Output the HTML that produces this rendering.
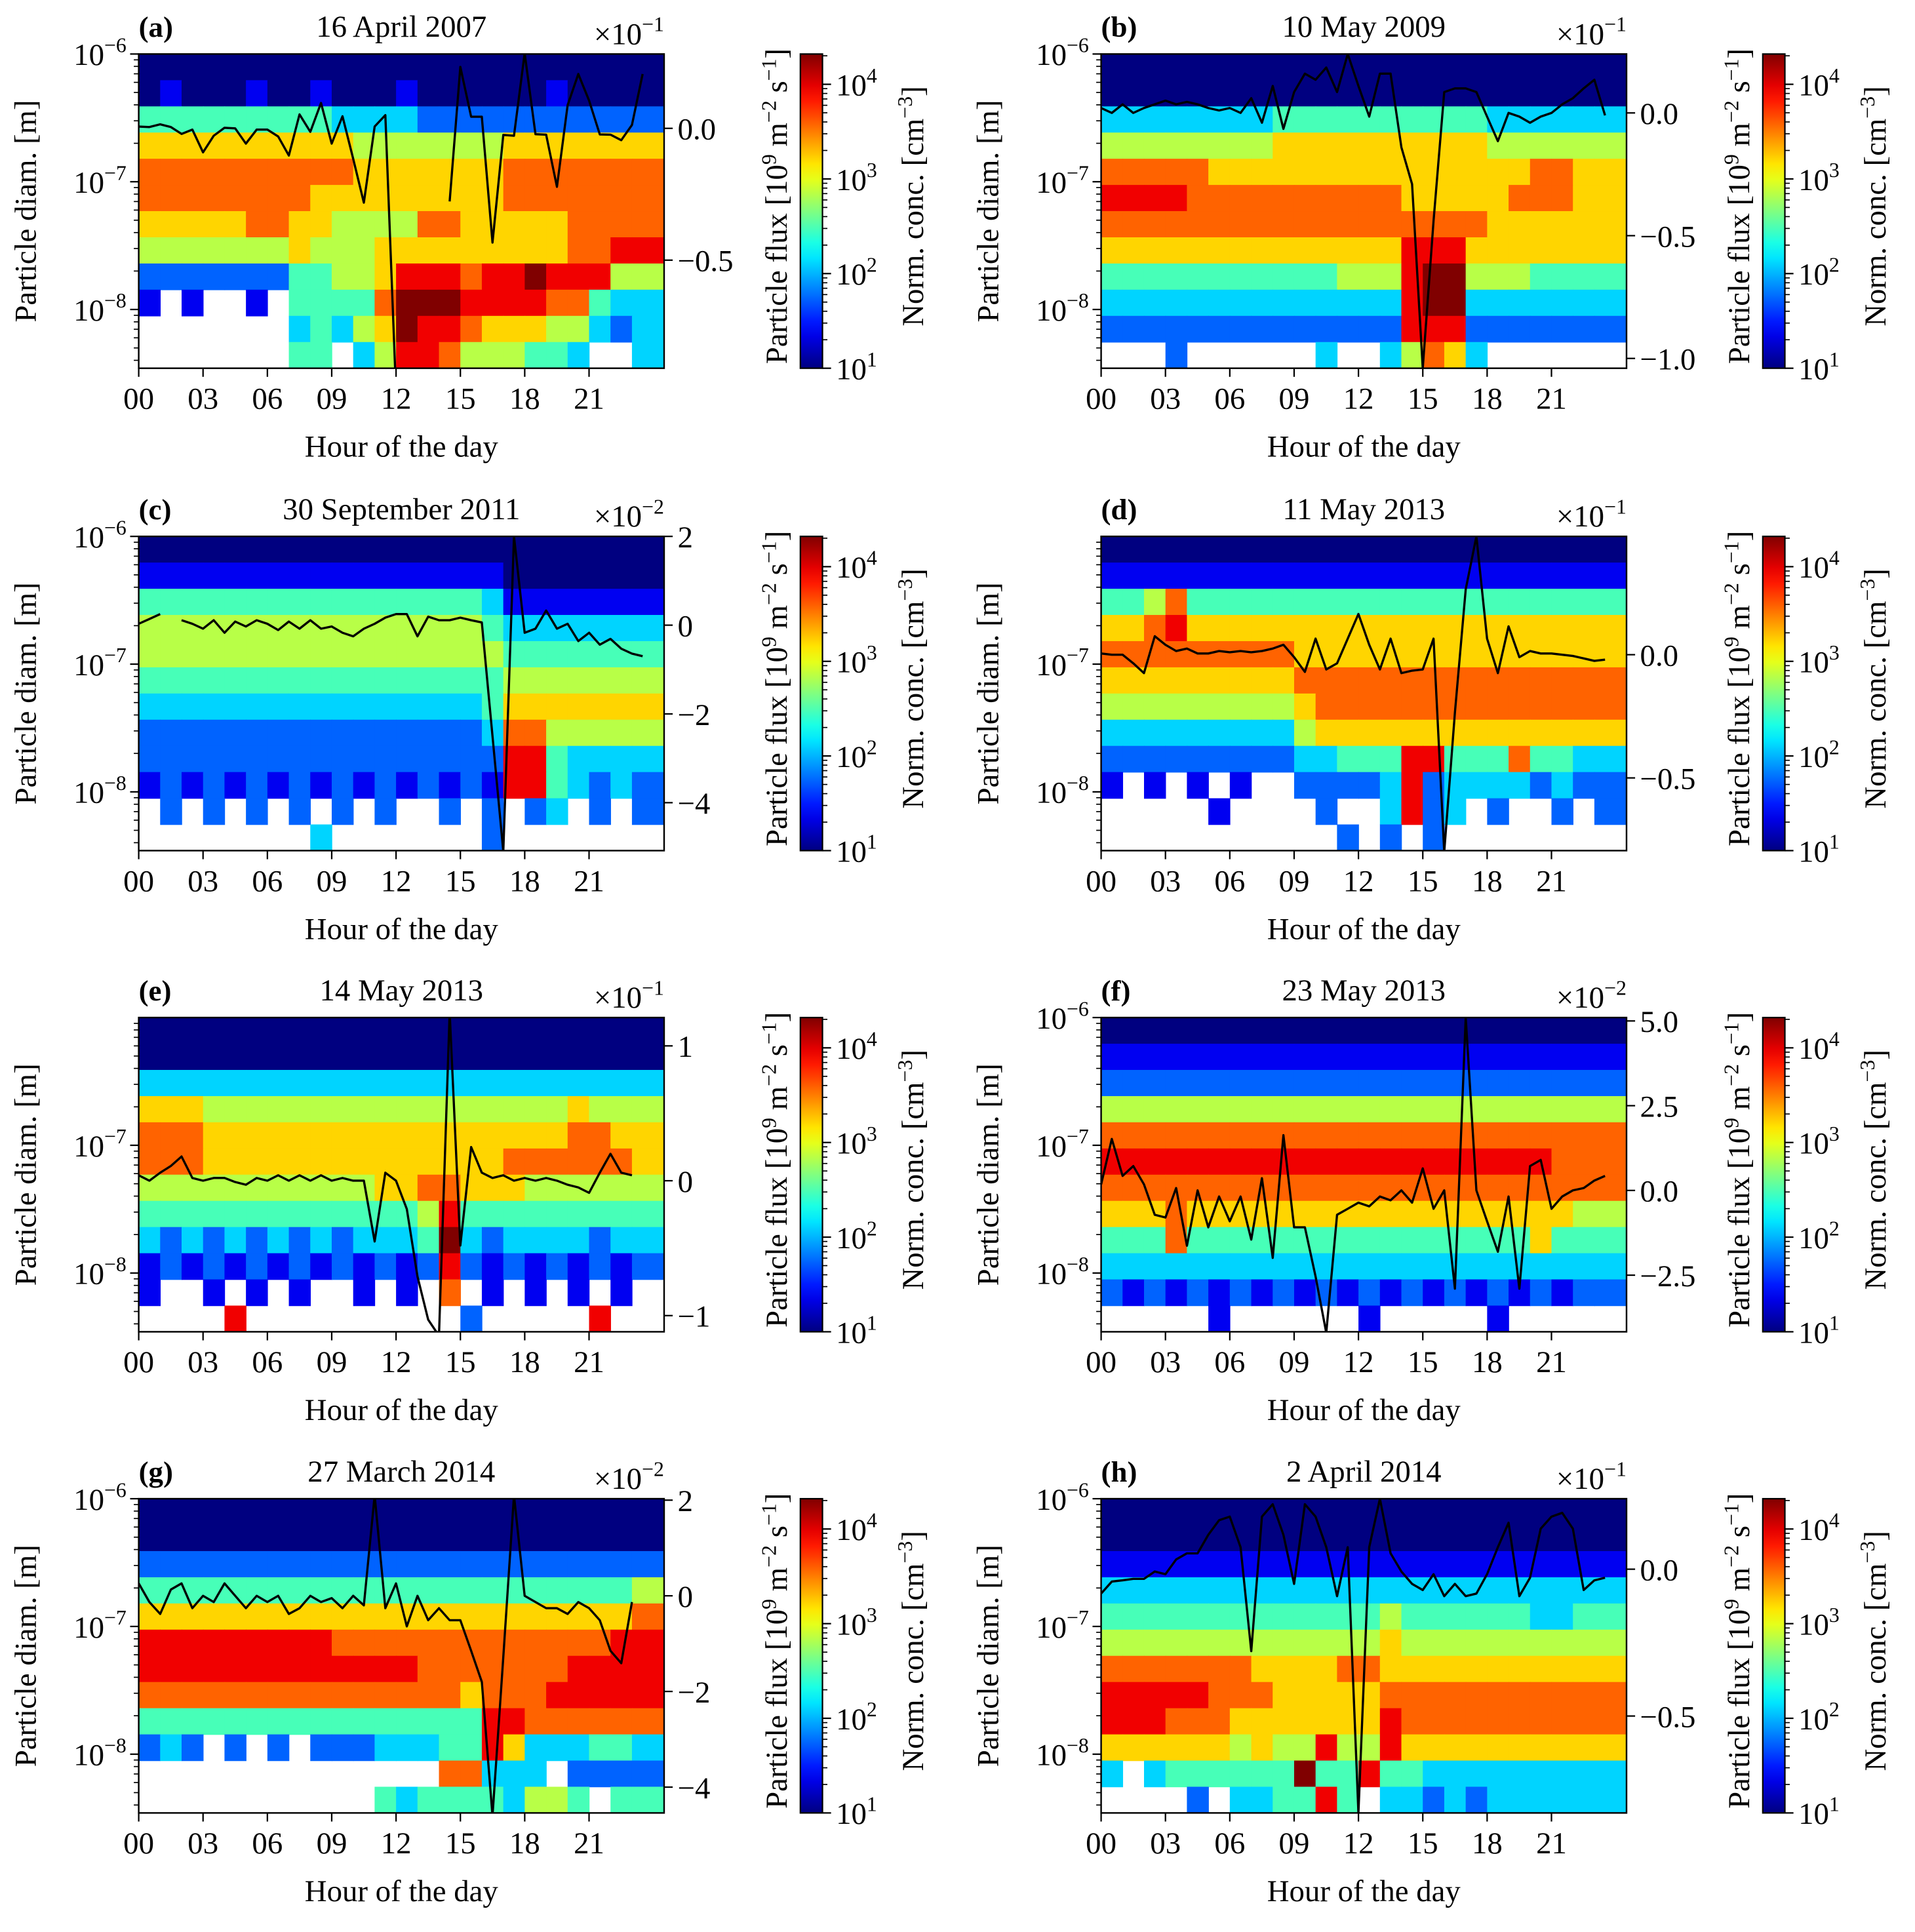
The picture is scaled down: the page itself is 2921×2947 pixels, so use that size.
<!DOCTYPE html>
<html><head><meta charset="utf-8">
<style>
html,body{margin:0;padding:0;background:#fff;}
svg{display:block;}
text{font-family:"Liberation Serif","DejaVu Serif",serif;fill:#000;}
</style></head>
<body>
<svg id="fig" xmlns="http://www.w3.org/2000/svg" width="2921" height="2947" viewBox="0 0 1560 1574" preserveAspectRatio="none"></svg>
<script>
// ---- data: heatmap level strings (rows top->bottom, 24 hourly columns; '.' = no data, 0..9 = jet level) ----
const heatA = ["000000000000000000000000","010001001000100000010000","444444444333322222222222","666666666655555556666666","777777777766666667777777","777777776666666667777777","666667766555577666667777","555555565556666666667788","222222244556888788988855","1.1..1.44447999888877433",".......34356988766655323",".......44.35887555443..3"];
const heatB = ["000000000000000000000000","000000000000000000000000","333333334444444444333333","555555556666666666555555","777776666666666666667766","888877777777776666677766","777777777777777777666666","666666666666668886666666","444444444445558995554444","333333333333338993333333","222222222222228882222222","...2......3..35763......"];
const heatC = ["000000000000000000000000","111111111111111110000000","444444444444444431111111","555555555555555543333333","555555555555555554444444","444444444444444445555555","333333333333333346666666","222222222222222237755555","222222222222222228843333","121212121212121218843232",".2.2.2.2.2.2..2.2.23.2.2","........3.......2......."];
const heatD = ["000000000000000000000000","111111111111111111111111","445744444444444444444444","667866666666666666666666","777777777666666666666666","666666666777777777777777","555555555677777777777777","333333333566666666666666","222222222334448844474433","1.1.1.1..222238233332322",".....1....2..3823.2..2.2","...........2.2.2........"];
const heatE = ["000000000000000000000000","000000000000000000000000","333333333333333333333333","666555555555555555556555","777666666666666666667766","777666666666666667777776","555555555556677666555555","444444444444458444444444","323232323233349323333233","121212121212128212121212","1..1.1.1..1.1.7.1.1.1.1.","....8..........2.....8.."];
const heatF = ["000000000000000000000000","111111111111111111111111","222222222222222222222222","555555555555555555555555","777777777777777777777777","888888888888888888888777","777777777777777777777777","666766666666666666666655","444744444444444444446444","333333333333333333333333","212121212121212121212122",".....1......1.....1....."];
const heatG = ["000000000000000000000000","000000000000000000000000","222222222222222222222222","444444444444444444444445","666666666666666666666667","888888888777777777777788","888888888888877777778888","777777777777777677788888","444444444444444488777777","232.2.2.2223334486333443","..............77333.2222","...........4344443554.44"];
const heatH = ["000000000000000000000000","000000000000000000000000","111111111111111111111111","333333333333333333333333","444444444444454444443344","555555555555565555555555","777777766667766666666666","888887776666677777777777","888777666666687777777777","666666565585586666666666","3.3444444944844333333333","....2.334484.33232333333"];

// ---- data: particle flux, half-hourly 00:00..23:30 (in units of the panel's offset factor) ----
const fluxA = [0.007,0.005,0.015,0.005,-0.021,-0.005,-0.091,-0.028,0.002,0,-0.058,-0.005,-0.005,-0.031,-0.103,0.053,-0.013,0.096,-0.058,0.046,-0.115,-0.282,0.007,0.05,-1.0,null,null,null,null,-0.277,0.233,0.044,0.044,-0.433,-0.025,-0.028,0.285,-0.022,-0.024,-0.222,0.088,0.206,0.105,-0.023,-0.024,-0.045,0.013,0.206];
const fluxB = [0.02,0,0.035,0,0.02,0.035,0.05,0.035,0.045,0.035,0.02,0.01,0.02,0,0.06,-0.04,0.11,-0.065,0.085,0.16,0.135,0.185,0.085,0.24,0.11,-0.015,0.16,0.16,-0.14,-0.29,-1.04,-0.44,0.085,0.1,0.1,0.085,-0.015,-0.115,0,-0.015,-0.04,-0.015,0,0.035,0.06,0.1,0.135,-0.01];
const fluxC = [0.03,0.14,0.25,null,0.11,0.03,-0.08,0.11,-0.17,0.08,-0.03,0.11,0.03,-0.11,0.08,-0.08,0.11,-0.08,-0.03,-0.17,-0.25,-0.08,0.03,0.17,0.25,0.25,-0.25,0.19,0.11,0.11,0.17,0.11,0.06,-2.5,-5.1,2.0,-0.17,-0.08,0.33,-0.08,0.03,-0.36,-0.17,-0.44,-0.31,-0.53,-0.64,-0.7];
const fluxD = [0.005,0,0,-0.035,-0.075,0.075,0.04,0.015,0.025,0.005,0.005,0.015,0.01,0.015,0.01,0.015,0.025,0.04,-0.01,-0.07,0.065,-0.06,-0.035,0.065,0.165,0.04,-0.06,0.065,-0.075,-0.065,-0.06,0.065,-0.8,-0.235,0.265,0.48,0.065,-0.075,0.115,-0.01,0.015,0.005,0.005,0,-0.005,-0.015,-0.025,-0.02];
const fluxE = [0.04,0,0.06,0.11,0.18,0.02,0,0.02,0.02,-0.01,-0.03,0.02,0,0.04,0,0.04,0,0.04,0,0.02,0,0,-0.45,0.06,0,-0.21,-0.71,-1.03,-1.15,1.25,-0.48,0.25,0.06,0.02,0.04,0,0.02,0,0.02,0,-0.03,-0.05,-0.09,0.06,0.2,0.06,0.04,null];
const fluxF = [0.18,1.52,0.43,0.72,0.18,-0.72,-0.8,0.07,-1.63,0,-1.09,-0.18,-0.91,-0.18,-1.45,0.36,-1.99,1.63,-1.09,-1.09,-2.54,-4.2,-0.72,-0.54,-0.36,-0.47,-0.18,-0.29,0,-0.36,0.65,-0.54,0,-2.9,5.1,0,-0.91,-1.81,-0.18,-2.9,0.72,0.9,-0.54,-0.18,0,0.07,0.29,0.43];
const fluxG = [0.26,-0.13,-0.38,0.13,0.26,-0.26,0,-0.13,0.26,0,-0.26,0,-0.13,0,-0.38,-0.26,0,-0.13,-0.05,-0.26,0,-0.2,2.1,-0.26,0.26,-0.64,0,-0.51,-0.26,-0.51,-0.51,-1.15,-1.8,-4.6,-1.28,2.1,0,-0.13,-0.26,-0.26,-0.38,-0.13,-0.26,-0.51,-1.15,-1.41,-0.13,null];
const fluxH = [-0.083,-0.042,-0.038,-0.033,-0.033,-0.008,-0.017,0.033,0.054,0.054,0.117,0.167,0.179,0.075,-0.279,0.179,0.221,0.117,-0.05,0.221,0.179,0.075,-0.092,0.075,-0.83,0.075,0.24,0.054,-0.008,-0.05,-0.071,-0.017,-0.092,-0.05,-0.092,-0.083,-0.017,0.075,0.158,-0.092,-0.029,0.138,0.179,0.192,0.138,-0.071,-0.038,-0.029];

// ---- tick labels ----
const hourTicks = [0,3,6,9,12,15,18,21];
const hourLabels = ["00","03","06","09","12","15","18","21"];
const ticksA = [0,-0.5], labA = ["0.0","\u22120.5"];
const ticksB = [0,-0.5,-1.0], labB = ["0.0","\u22120.5","\u22121.0"];
const ticksC = [2,0,-2,-4], labC = ["2","0","\u22122","\u22124"];
const ticksD = [0,-0.5], labD = ["0.0","\u22120.5"];
const ticksE = [1,0,-1], labE = ["1","0","\u22121"];
const ticksF = [5,2.5,0,-2.5], labF = ["5.0","2.5","0.0","\u22122.5"];
const ticksG = [2,0,-2,-4], labG = ["2","0","\u22122","\u22124"];
const ticksH = [0,-0.5], labH = ["0.0","\u22120.5"];
const titles = ["16 April 2007","10 May 2009","30 September 2011","11 May 2013","14 May 2013","23 May 2013","27 March 2014","2 April 2014"];
const letters = ["(a)","(b)","(c)","(d)","(e)","(f)","(g)","(h)"];
const exps = ["\u22121","\u22121","\u22122","\u22121","\u22121","\u22122","\u22122","\u22121"];

// ---- layout ----
const NS = "http://www.w3.org/2000/svg";
const svg = document.getElementById('fig');
const PW = 428, PH = 256, HMAX = 24.5, LTOP = -6, LBOT = -8.46;
const FS = 25, ES = 17;
const heats = [heatA,heatB,heatC,heatD,heatE,heatF,heatG,heatH];
const fluxes = [fluxA,fluxB,fluxC,fluxD,fluxE,fluxF,fluxG,fluxH];
const ticks = [ticksA,ticksB,ticksC,ticksD,ticksE,ticksF,ticksG,ticksH];
const labs = [labA,labB,labC,labD,labE,labF,labG,labH];
const frange = [[0.282,-0.91],[0.24,-1.04],[2.0,-5.08],[0.48,-0.795],[1.21,-1.12],[5.1,-4.17],[2.03,-4.54],[0.24,-0.83]];
const showTop = [true,true,true,false,false,true,true,true];

function mk(tag, attrs, parent){
  const e = document.createElementNS(NS, tag);
  for (const k in attrs) e.setAttribute(k, attrs[k]);
  (parent||svg).appendChild(e);
  return e;
}
function jet(t){
  t = Math.max(0, Math.min(1, t));
  const c = v => Math.round(255*Math.max(0, Math.min(1, v)));
  const r = c(1.5 - Math.abs(4*t - 3)), g = c(1.5 - Math.abs(4*t - 2)), b = c(1.5 - Math.abs(4*t - 1));
  return `rgb(${r},${g},${b})`;
}
function sup(parent, base, ex, bs, es){
  const t1 = document.createElementNS(NS,'tspan'); t1.textContent = base; parent.appendChild(t1);
  const t2 = document.createElementNS(NS,'tspan'); t2.setAttribute('dy', -bs*0.42); t2.setAttribute('font-size', es); t2.textContent = ex; parent.appendChild(t2);
}

const defs = mk('defs', {});
const grad = mk('linearGradient', {id:'jetg', x1:0, y1:1, x2:0, y2:0}, defs);
for (let i = 0; i <= 20; i++){ mk('stop', {offset:(i/20), 'stop-color': jet(i/20)}, grad); }

for (let p = 0; p < 8; p++){
  const col = p % 2, row = Math.floor(p/2);
  const x0 = col ? 897 : 113, y0 = [44,437,829,1221][row];
  const g = mk('g', {});
  
  
  const xS = h => x0 + h/HMAX*PW;
  const yS = l => y0 + (LTOP - l)/(LTOP - LBOT)*PH;
  const [fmax, fmin] = frange[p];
  const yF = v => y0 + (fmax - v)/(fmax - fmin)*PH;

  // heatmap
  const hm = mk('g', {}, g);
  
  
  const rows = heats[p], nR = rows.length;
  for (let r = 0; r < nR; r++){
    const s = rows[r];
    for (let c = 0; c < 24; c++){
      const ch = s[Math.min(c, s.length-1)];
      if (ch === '.' || ch === undefined) continue;
      const d = parseInt(ch, 10);
      const xa = xS(c), xb = (c === 23) ? x0 + PW : xS(c+1);
      const la = LTOP + (LBOT - LTOP)*r/nR, lb = LTOP + (LBOT - LTOP)*(r+1)/nR;
      const cell = mk('rect', {x:xa, y:yS(la), width:xb-xa+0.4, height:yS(lb)-yS(la)+0.4, fill: jet(d/9)}, hm);
      
      
    }
  }

  // flux line
  const cp = mk('clipPath', {id:'clip'+p}, defs);
  mk('rect', {x:x0, y:y0, width:PW, height:PH}, cp);
  const fl = fluxes[p];
  let d = '', pen = false;
  for (let i = 0; i < fl.length; i++){
    if (fl[i] === null){ pen = false; continue; }
    d += (pen ? 'L' : 'M') + xS(i*0.5).toFixed(1) + ',' + yF(fl[i]).toFixed(1) + ' ';
    pen = true;
  }
  const line = mk('path', {d:d, fill:'none', stroke:'#000', 'stroke-width':1.8, 'clip-path':'url(#clip'+p+')', 'stroke-linejoin':'round'}, g);
  
  

  // frame
  const fr = mk('rect', {x:x0, y:y0, width:PW, height:PH, fill:'none', stroke:'#000', 'stroke-width':1.3}, g);
  
  

  // left log axis
  for (let dec = -9; dec <= -7; dec++){
    for (let m = 1; m <= 9; m++){
      const l = dec + Math.log10(m);
      if (l > LTOP + 1e-6 || l < LBOT) continue;
      const yy = yS(l), major = (m === 1);
      mk('line', {x1:x0, x2:x0 - (major ? 7 : 4), y1:yy, y2:yy, stroke:'#000', 'stroke-width': major ? 1.2 : 0.9}, g);
    }
  }
  [-6,-7,-8].forEach(l => {
    if (l === -6 && !showTop[p]) return;
    const yy = yS(l);
    if (l === -6) mk('line', {x1:x0, x2:x0-7, y1:yy, y2:yy, stroke:'#000', 'stroke-width':1.2}, g);
    const t = mk('text', {x:x0-10, y:yy+9, 'font-size':FS, 'text-anchor':'end'}, g);
    
    
    sup(t, '10', '\u2212' + (-l), FS, ES);
  });
  const yl = mk('text', {x:0, y:0, 'font-size':FS, 'text-anchor':'middle', transform:`translate(${x0-84},${y0+PH/2}) rotate(-90)`}, g);
  
  
  yl.textContent = 'Particle diam. [m]';

  // x axis
  hourTicks.forEach((h, i) => {
    mk('line', {x1:xS(h), x2:xS(h), y1:y0+PH, y2:y0+PH+7, stroke:'#000', 'stroke-width':1.2}, g);
    const t = mk('text', {x:xS(h), y:y0+PH+33, 'font-size':FS, 'text-anchor':'middle'}, g);
    
    
    t.textContent = hourLabels[i];
  });
  const xl = mk('text', {x:x0+PW/2, y:y0+PH+72, 'font-size':FS, 'text-anchor':'middle'}, g);
  
  
  xl.textContent = 'Hour of the day';

  // right flux axis
  ticks[p].forEach((v, i) => {
    const yy = yF(v);
    mk('line', {x1:x0+PW, x2:x0+PW+7, y1:yy, y2:yy, stroke:'#000', 'stroke-width':1.2}, g);
    const t = mk('text', {x:x0+PW+11, y:yy+9, 'font-size':FS}, g);
    
    
    t.textContent = labs[p][i];
  });
  const off = mk('text', {x:x0+PW, y:y0-8, 'font-size':FS, 'text-anchor':'end'}, g);
  
  
  sup(off, '\u00d710', exps[p], FS, ES);
  const fl2 = mk('text', {x:0, y:0, 'font-size':FS, 'text-anchor':'middle', transform:`translate(${x0+PW+100},${y0+PH/2-4}) rotate(-90)`}, g);
  
  
  const a1 = document.createElementNS(NS,'tspan'); a1.textContent = 'Particle flux [10'; fl2.appendChild(a1);
  const a2 = document.createElementNS(NS,'tspan'); a2.setAttribute('dy',-9); a2.setAttribute('font-size',ES); a2.textContent='9'; fl2.appendChild(a2);
  const a3 = document.createElementNS(NS,'tspan'); a3.setAttribute('dy',9); a3.textContent=' m'; fl2.appendChild(a3);
  const a4 = document.createElementNS(NS,'tspan'); a4.setAttribute('dy',-9); a4.setAttribute('font-size',ES); a4.textContent='\u22122'; fl2.appendChild(a4);
  const a5 = document.createElementNS(NS,'tspan'); a5.setAttribute('dy',9); a5.textContent=' s'; fl2.appendChild(a5);
  const a6 = document.createElementNS(NS,'tspan'); a6.setAttribute('dy',-9); a6.setAttribute('font-size',ES); a6.textContent='\u22121'; fl2.appendChild(a6);
  const a7 = document.createElementNS(NS,'tspan'); a7.setAttribute('dy',9); a7.textContent=']'; fl2.appendChild(a7);

  // titles
  const lt = mk('text', {x:x0, y:y0-14, 'font-size':24, 'font-weight':'bold'}, g);
  
  
  lt.textContent = letters[p];
  const tt = mk('text', {x:x0+PW/2, y:y0-14, 'font-size':FS, 'text-anchor':'middle'}, g);
  
  
  tt.textContent = titles[p];

  // colorbar
  const cx = x0 + 539;
  const cb = mk('rect', {x:cx, y:y0, width:18, height:PH, fill:'url(#jetg)', stroke:'#000', 'stroke-width':1.2}, g);
  
  
  const cY = l => y0 + PH - (l - 1)/3.32*PH;
  for (let dec = 1; dec <= 4; dec++){
    for (let m = 1; m <= 9; m++){
      const l = dec + Math.log10(m);
      if (l > 4.32) continue;
      const yy = cY(l), major = (m === 1);
      mk('line', {x1:cx+18, x2:cx+18+(major?7:4), y1:yy, y2:yy, stroke:'#000', 'stroke-width': major?1.2:0.9}, g);
    }
    const t = mk('text', {x:cx+29, y:cY(dec)+9, 'font-size':FS}, g);
    
    
    sup(t, '10', String(dec), FS, ES);
  }
  const cl = mk('text', {x:0, y:0, 'font-size':FS, 'text-anchor':'middle', transform:`translate(${cx+100},${y0+PH/2-4}) rotate(-90)`}, g);
  
  
  const b1 = document.createElementNS(NS,'tspan'); b1.textContent='Norm. conc. [cm'; cl.appendChild(b1);
  const b2 = document.createElementNS(NS,'tspan'); b2.setAttribute('dy',-9); b2.setAttribute('font-size',ES); b2.textContent='\u22123'; cl.appendChild(b2);
  const b3 = document.createElementNS(NS,'tspan'); b3.setAttribute('dy',9); b3.textContent=']'; cl.appendChild(b3);
}
</script>
</body></html>
